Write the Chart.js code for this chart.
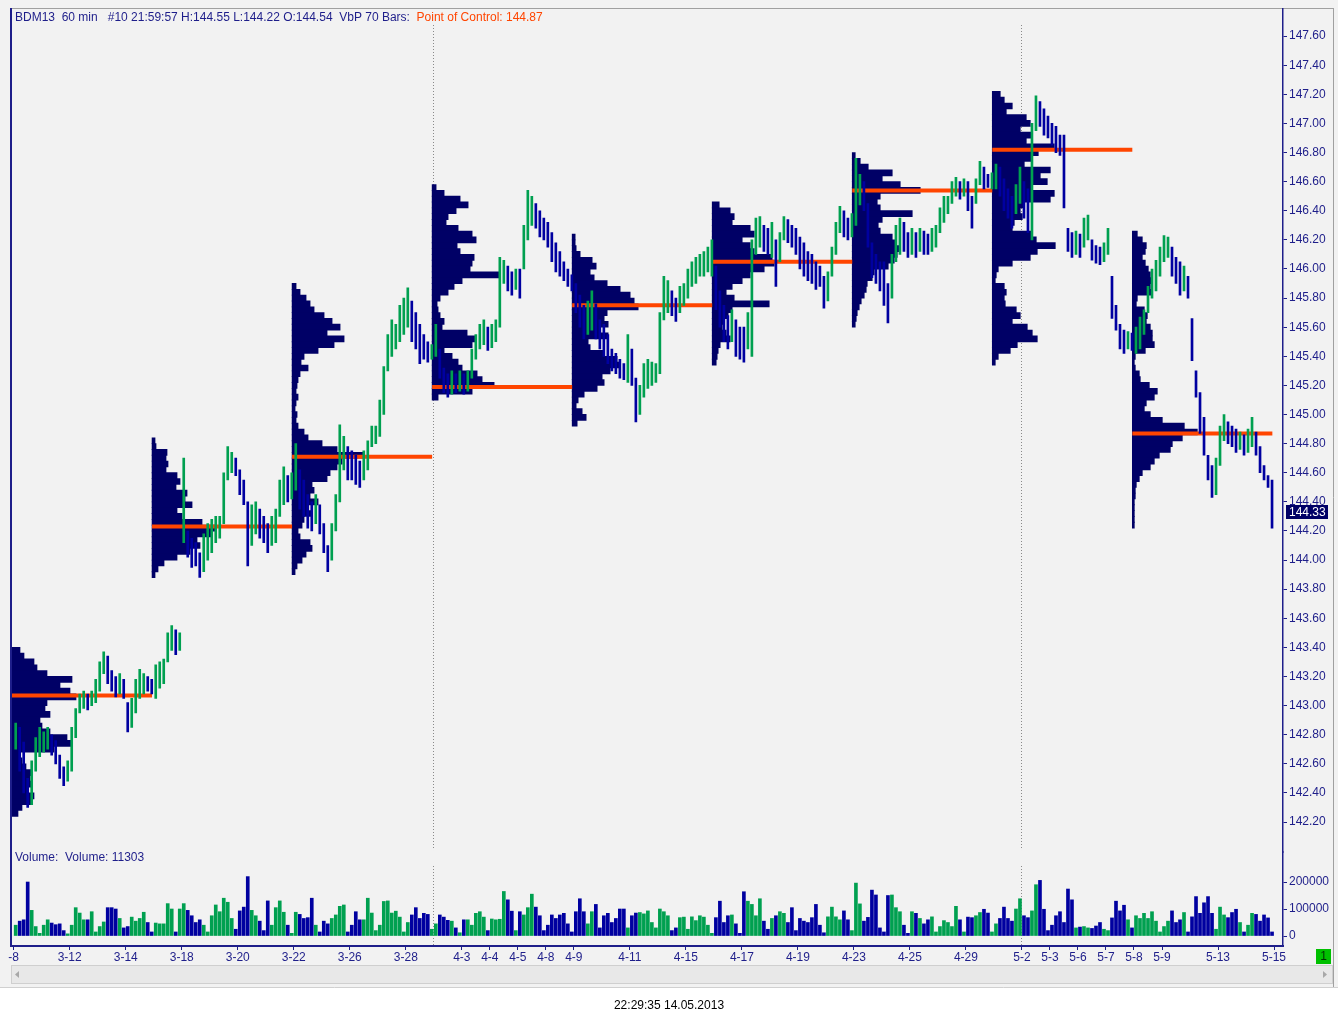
<!DOCTYPE html>
<html><head><meta charset="utf-8">
<script src="https://cdn.jsdelivr.net/npm/chart.js@4.4.1/dist/chart.umd.min.js"></script>
<style>html,body{margin:0;padding:0;background:#fff;overflow:hidden}canvas{display:block}</style>
</head><body>
<canvas id="c" width="1338" height="1023"></canvas>
<script>
// ---------- DATA ----------
const BARS_PER_DAY = 7; // each bar = 2 hourly bars
const DAY_TICKS  = [0,2,4,6,8,10,12,14,16,17,18,19,20,22,24,26,28,30,32,34,36,37,38,39,40,41,43,45];
const DAY_LABELS = ['-8','3-12','3-14','3-18','3-20','3-22','3-26','3-28','4-3','4-4','4-5','4-8','4-9','4-11','4-15','4-17','4-19','4-23','4-25','4-29','5-2','5-3','5-6','5-7','5-8','5-9','5-13','5-15'];
const MONTH_BREAKS = [15, 36];
const PRICE_TICKS = [142.2,142.4,142.6,142.8,143.0,143.2,143.4,143.6,143.8,144.0,144.2,144.4,144.6,144.8,145.0,145.2,145.4,145.6,145.8,146.0,146.2,146.4,146.6,146.8,147.0,147.2,147.4,147.6];
const VOL_TICKS = [0,100000,200000];
const LAST_PRICE = 144.33;

const LOWS = [
142.70,142.55,142.40,142.30,142.32,142.55,142.65,
142.68,142.70,142.66,142.60,142.50,142.45,142.48,
142.55,142.78,142.95,142.98,142.97,143.00,143.02,
143.10,143.22,143.15,143.10,143.06,143.08,143.05,
142.82,142.85,142.95,143.05,143.08,143.10,143.08,
143.05,143.12,143.15,143.30,143.38,143.35,143.38,
144.12,144.02,143.95,143.96,143.88,143.92,144.00,
144.05,144.12,144.15,144.25,144.55,144.60,144.58,
144.45,144.38,143.96,144.10,144.18,144.15,144.12,
144.05,144.10,144.12,144.30,144.38,144.40,144.42,
144.48,144.35,144.30,144.22,144.20,144.25,144.18,
144.05,143.92,144.00,144.20,144.40,144.62,144.55,
144.55,144.52,144.50,144.55,144.62,144.78,144.80,
144.85,145.00,145.30,145.40,145.45,145.50,145.55,
145.60,145.50,145.45,145.35,145.38,145.36,145.38,
145.40,145.25,145.15,145.12,145.14,145.15,145.16,
145.14,145.16,145.25,145.38,145.45,145.48,145.44,
145.46,145.50,145.60,145.90,145.85,145.82,145.86,
145.80,146.00,146.20,146.30,146.28,146.22,146.20,
146.15,146.05,145.98,145.95,145.92,145.88,145.85,
145.70,145.60,145.52,145.55,145.58,145.52,145.45,
145.40,145.35,145.30,145.28,145.25,145.24,145.22,
145.20,144.95,145.00,145.12,145.18,145.20,145.22,
145.28,145.65,145.70,145.68,145.64,145.70,145.75,
145.80,145.88,145.90,145.95,145.95,145.98,145.95,
145.72,145.60,145.50,145.45,145.50,145.40,145.38,
145.36,145.45,145.40,146.10,146.15,146.12,146.10,
146.08,145.88,146.05,146.20,146.18,146.15,146.10,
146.00,145.95,145.92,145.90,145.86,145.88,145.73,
145.78,145.95,146.10,146.25,146.22,146.20,146.22,
146.30,146.44,146.40,146.15,145.94,145.90,145.85,
145.75,145.63,145.80,146.05,146.10,146.12,146.08,
146.10,146.08,146.12,146.10,146.10,146.12,146.15,
146.25,146.32,146.38,146.45,146.50,146.48,146.50,
146.40,146.28,146.45,146.58,146.55,146.56,146.55,
146.55,146.50,146.40,146.35,146.28,146.38,146.45,
146.35,146.25,146.20,146.95,146.98,146.92,146.90,
146.85,146.80,146.78,146.42,146.12,146.08,146.10,
146.08,146.15,146.20,146.06,146.04,146.03,146.05,
146.10,145.66,145.58,145.45,145.42,145.45,145.44,
145.42,145.45,145.55,145.70,145.80,145.85,145.95,
146.05,146.08,145.95,145.90,145.82,145.85,145.80,
145.37,145.12,144.87,144.72,144.55,144.43,144.45,
144.65,144.82,144.80,144.78,144.74,144.76,144.72,
144.74,144.78,144.72,144.60,144.55,144.50,144.22];

const HIGHS = [
142.88,142.85,142.75,142.50,142.62,142.78,142.85,
142.82,142.85,142.80,142.76,142.66,142.58,142.62,
142.85,142.98,143.08,143.10,143.08,143.10,143.18,
143.30,143.37,143.34,143.24,143.20,143.22,143.18,
143.02,143.05,143.18,143.25,143.22,143.20,143.18,
143.28,143.30,143.32,143.50,143.55,143.52,143.50,
144.70,144.20,144.15,144.12,144.05,144.18,144.25,
144.28,144.30,144.30,144.60,144.78,144.74,144.70,
144.62,144.55,144.40,144.38,144.40,144.35,144.30,
144.25,144.30,144.35,144.55,144.64,144.58,144.60,
144.80,144.62,144.55,144.45,144.40,144.45,144.38,
144.25,144.10,144.25,144.45,144.93,144.85,144.78,
144.75,144.72,144.68,144.75,144.82,144.92,144.92,
145.10,145.33,145.55,145.65,145.62,145.75,145.80,
145.87,145.78,145.70,145.62,145.55,145.50,145.48,
145.62,145.45,145.32,145.28,145.30,145.28,145.30,
145.28,145.30,145.45,145.55,145.62,145.65,145.60,
145.62,145.65,146.08,146.06,146.02,145.98,146.00,
146.00,146.30,146.54,146.50,146.45,146.40,146.35,
146.32,146.25,146.18,146.12,146.05,146.00,145.96,
145.90,145.82,145.75,145.78,145.85,145.76,145.65,
145.62,145.55,145.45,145.42,145.38,145.35,145.55,
145.45,145.25,145.20,145.35,145.38,145.36,145.35,
145.70,145.95,145.92,145.85,145.80,145.88,145.90,
146.00,146.05,146.08,146.10,146.12,146.15,146.20,
146.02,145.85,145.75,145.68,145.72,145.65,145.60,
145.60,145.70,146.20,146.35,146.36,146.30,146.28,
146.32,146.20,146.25,146.36,146.34,146.30,146.28,
146.22,146.18,146.12,146.10,146.05,146.02,145.95,
145.98,146.15,146.32,146.43,146.40,146.35,146.38,
146.76,146.65,146.60,146.45,146.18,146.10,146.05,
146.05,145.90,146.10,146.30,146.35,146.32,146.25,
146.28,146.25,146.28,146.26,146.24,146.28,146.30,
146.42,146.50,146.50,146.60,146.63,146.60,146.62,
146.60,146.50,146.62,146.74,146.70,146.65,146.66,
146.72,146.70,146.62,146.55,146.50,146.58,146.70,
146.60,146.55,147.00,147.19,147.15,147.10,147.05,
147.00,146.98,146.92,146.92,146.28,146.25,146.26,
146.24,146.35,146.37,146.20,146.16,146.15,146.18,
146.28,145.95,145.75,145.62,145.58,145.57,145.56,
145.60,145.67,145.72,145.88,146.00,146.06,146.15,
146.23,146.22,146.15,146.08,146.05,146.02,145.95,
145.66,145.30,145.15,144.98,144.72,144.65,144.70,
144.92,145.00,144.95,144.92,144.90,144.88,144.86,
144.90,144.98,144.88,144.78,144.65,144.58,144.55];

// volume per bar, thousands of contracts
const VOLUME_K = [
40,55,60,200,95,35,10,  40,60,48,42,45,20,8,  40,105,85,60,60,90,15,  35,52,105,105,100,65,30,
35,70,55,65,88,50,15,  48,45,45,120,100,15,100,  120,95,75,50,60,40,15,  75,115,90,140,125,65,25,
93,107,220,95,75,55,20,  130,40,105,130,88,40,10,  88,80,65,68,140,40,15,  55,45,65,78,110,115,15,
40,90,60,60,140,85,20,  40,128,130,85,92,70,15,  50,78,105,65,84,80,25,  45,78,70,58,55,30,12,
60,60,40,84,90,70,20,  63,60,62,165,134,92,20,  90,78,105,155,107,75,20,  40,78,65,78,84,45,15,
90,138,90,45,90,117,30,  75,84,50,65,100,100,30,  75,85,87,82,93,50,30,  100,90,75,20,30,68,70,
25,71,57,75,70,40,10,  68,129,50,75,78,45,10,  164,129,117,75,138,55,25,  65,75,90,84,50,105,20,
65,55,50,68,117,40,12,  71,107,71,60,93,60,20,  196,119,55,69,170,152,30,  15,150,152,105,90,40,10,
90,84,65,45,60,71,15,  35,57,50,35,110,60,15,  70,68,75,87,99,85,15,  45,65,107,65,55,100,138,
75,68,93,190,206,99,20,  40,75,90,50,174,134,30,  33,35,30,28,37,50,25,  20,67,129,93,114,60,30,
75,65,84,65,90,55,15,  35,55,93,50,60,87,15,  71,146,84,123,146,84,25,  107,78,68,87,99,50,15,
40,84,80,55,78,67,15];

// Volume-by-price profiles, one per 70-bar block (5 sessions)
const PROFILE_STARTS = [0,5,10,15,20,25,30,35,40];
const PROFILE_TOPS   = [143.38,144.82,145.88,146.56,146.22,146.44,146.78,147.20,146.24];
const PROFILE_STEP   = 0.04;
const POC            = [143.07,144.23,144.71,145.19,145.75,146.05,146.54,146.82,144.87];
const PROFILE_VOLS = [
 [8,12,22,25,35,60,48,58,64,35,33,38,28,30,38,55,60,42,8,10,14,20,18,20,16,22,20,10,6],
 [3,4,15,14,16,14,25,28,24,35,33,40,25,30,50,64,60,45,48,38,25,12,6,3],
 [4,8,14,18,22,32,40,48,35,52,42,26,12,9,16,8,6,5,4,6,4,3,5,4,6,12,16,30,45,72,50,45,38,35,20,22,18,26,15,20,12,10,6,8,18,20,14,10,5,3],
 [4,12,28,36,24,16,14,26,40,44,25,28,42,40,38,68,30,22,16,8,5,6,8,12,10,35,44,40,12,20,26,30,45,50,62,40,6],
 [3,3,4,8,20,24,18,22,35,48,58,62,66,35,32,36,28,36,16,18,32,45,48,38,30,32,25,12,6,4,10,14,5],
 [7,18,22,20,38,42,30,38,42,60,62,52,38,30,20,14,22,57,20,16,12,10,14,18,8,6,5,4],
 [3,8,16,40,30,48,68,28,25,28,60,30,26,28,40,44,48,45,42,36,22,20,15,14,12,9,7,5,4,3],
 [8,12,20,14,34,38,28,40,34,62,46,40,32,58,48,55,40,62,58,32,28,30,22,20,40,44,63,45,38,20,6,4,3,12,14,12,13,24,28,20,35,40,45,25,18,6,3],
 [5,10,14,13,10,13,16,18,20,18,19,5,4,12,15,14,18,20,20,22,13,3,2,3,7,8,17,25,22,14,12,18,30,52,65,50,40,38,27,22,18,10,7,4,3,3,2,2,2,2,2]
];

// ---------- STYLE ----------
const NAVY = '#1e1e8a', PROFILE_C = '#000066', UP_C = '#00a050', DN_C = '#0000a0', POC_C = '#ff4500';
const PROFILE_UNIT = 1/28;      // days of width per unit of relative volume
const BLOCK_OFFSET = -0.06;     // profile block starts just before first bar

// ---------- BUILD ----------
const barX = i => i / BARS_PER_DAY + 0.5 / BARS_PER_DAY;
const mids = LOWS.map((l, i) => (l + HIGHS[i]) / 2);
const isUp = mids.map((m, i) => i === 0 ? true : m >= mids[i - 1]);
const barColors = isUp.map(u => u ? UP_C : DN_C);

const priceData = LOWS.map((l, i) => ({x: barX(i), y: [l, HIGHS[i]]}));
const volData = VOLUME_K.map((v, i) => ({x: barX(i), y: v * 1000}));

const profRows = [];
PROFILE_VOLS.forEach((vols, k) => {
  const x0 = PROFILE_STARTS[k] + BLOCK_OFFSET;
  vols.forEach((v, r) => profRows.push({y: +(PROFILE_TOPS[k] - r * PROFILE_STEP).toFixed(2), x: [x0, x0 + v * PROFILE_UNIT]}));
});
const pocData = [];
POC.forEach((p, k) => {
  const x0 = PROFILE_STARTS[k] + BLOCK_OFFSET;
  pocData.push({x: x0, y: p}, {x: x0 + 5, y: p}, {x: x0 + 5, y: null});
});

Chart.defaults.font.family = '"Liberation Sans", Arial, sans-serif';
Chart.defaults.font.size = 12;

const deco = {
  id: 'deco',
  beforeDraw(chart) {
    const ctx = chart.ctx;
    ctx.save();
    ctx.fillStyle = '#ffffff'; ctx.fillRect(0, 0, 1338, 1023);
    ctx.fillStyle = '#f2f2f2'; ctx.fillRect(0, 0, 1338, 988);
    ctx.strokeStyle = '#a0a0a0'; ctx.lineWidth = 1;
    ctx.beginPath(); ctx.moveTo(10, 8.5); ctx.lineTo(1334, 8.5); ctx.stroke();
    ctx.beginPath(); ctx.moveTo(1333.5, 8); ctx.lineTo(1333.5, 987); ctx.stroke();
    ctx.strokeStyle = '#d0d0d0';
    ctx.beginPath(); ctx.moveTo(0, 987.5); ctx.lineTo(1338, 987.5); ctx.stroke();
    ctx.restore();
  },
  beforeDatasetsDraw(chart) {
    const ctx = chart.ctx, xs = chart.scales.x, yp = chart.scales.y, yv = chart.scales.yv;
    ctx.save();
    ctx.strokeStyle = '#8a8a8a'; ctx.lineWidth = 1; ctx.setLineDash([1, 2]);
    MONTH_BREAKS.forEach(d => {
      const x = Math.round(xs.getPixelForValue(d)) - 0.5;
      ctx.beginPath(); ctx.moveTo(x, 25); ctx.lineTo(x, yp.bottom - 2); ctx.stroke();
      ctx.beginPath(); ctx.moveTo(x, yv.top + 14); ctx.lineTo(x, yv.bottom); ctx.stroke();
    });
    ctx.restore();
  },
  afterDraw(chart) {
    const ctx = chart.ctx, ca = chart.chartArea, yp = chart.scales.y;
    ctx.save();
    // left border
    ctx.strokeStyle = NAVY; ctx.lineWidth = 2;
    ctx.beginPath(); ctx.moveTo(11, 8); ctx.lineTo(11, ca.bottom + 1); ctx.stroke();
    // header
    ctx.font = '12px "Liberation Sans", Arial, sans-serif';
    ctx.textBaseline = 'middle'; ctx.textAlign = 'left';
    const h1 = 'BDM13  60 min   #10 21:59:57 H:144.55 L:144.22 O:144.54  VbP 70 Bars:  ';
    ctx.fillStyle = NAVY; ctx.fillText(h1, 15, 18);
    const w1 = ctx.measureText(h1).width;
    ctx.fillStyle = POC_C; ctx.fillText('Point of Control: 144.87', 15 + w1, 18);
    // volume label
    ctx.fillStyle = NAVY; ctx.fillText('Volume:  Volume: 11303', 15, 858);
    // last price box
    const yl = Math.round(yp.getPixelForValue(LAST_PRICE));
    ctx.fillStyle = '#000066'; ctx.fillRect(ca.right + 3, yl - 7, 42, 14);
    ctx.fillStyle = '#ffffff'; ctx.fillText(LAST_PRICE.toFixed(2), ca.right + 6, yl + 0.5);
    // green box
    ctx.fillStyle = '#00c000'; ctx.fillRect(1316, 949, 15, 15);
    ctx.fillStyle = '#003300'; ctx.textAlign = 'center'; ctx.fillText('1', 1323.5, 957);
    // scroll bar
    ctx.fillStyle = '#e8e8e8'; ctx.fillRect(11, 966, 1322, 17);
    ctx.strokeStyle = '#cfcfcf'; ctx.lineWidth = 1;
    ctx.strokeRect(11.5, 965.5, 1321, 18);
    ctx.fillStyle = '#a8a8a8';
    ctx.beginPath(); ctx.moveTo(15, 974.5); ctx.lineTo(19, 971); ctx.lineTo(19, 978); ctx.closePath(); ctx.fill();
    ctx.beginPath(); ctx.moveTo(1327, 974.5); ctx.lineTo(1323, 971); ctx.lineTo(1323, 978); ctx.closePath(); ctx.fill();
    // timestamp
    ctx.fillStyle = '#000000'; ctx.textAlign = 'center';
    ctx.fillText('22:29:35 14.05.2013', 669, 1006);
    ctx.restore();
  }
};

const axisCommon = {
  offset: false,
  beginAtZero: false,
  grid: {drawOnChartArea: false, drawTicks: true, tickLength: 4, color: NAVY, offset: false},
  border: {display: true, color: NAVY, width: 1.5},
};

new Chart(document.getElementById('c'), {
  type: 'bar',
  data: {
    datasets: [
      {type: 'line', data: pocData, xAxisID: 'x', yAxisID: 'y', borderColor: POC_C, borderWidth: 4,
       pointRadius: 0, spanGaps: false, order: 2, borderCapStyle: 'butt'},
      {data: priceData, xAxisID: 'x', yAxisID: 'y', backgroundColor: barColors, barThickness: 2,
       grouped: false, borderWidth: 0, order: 1},
      {data: profRows, indexAxis: 'y', xAxisID: 'x', yAxisID: 'y', backgroundColor: PROFILE_C,
       barThickness: 6, grouped: false, borderWidth: 0, order: 3},
      {data: volData, xAxisID: 'x', yAxisID: 'yv', backgroundColor: barColors, barThickness: 3,
       grouped: false, borderWidth: 0, order: 2}
    ]
  },
  options: {
    responsive: false, animation: false, devicePixelRatio: 1,
    layout: {padding: {left: 11, right: 5, top: 9, bottom: 57}},
    plugins: {legend: {display: false}, tooltip: {enabled: false}},
    events: [],
    scales: {
      x: Object.assign({}, axisCommon, {
        type: 'linear', position: 'bottom', min: -0.096, max: 45.32,
        border: {display: true, color: NAVY, width: 2},
        ticks: {autoSkip: false, maxRotation: 0, color: NAVY, padding: 0,
                callback: (v, i) => DAY_LABELS[i]},
        afterBuildTicks: s => { s.ticks = DAY_TICKS.map(v => ({value: v})); },
        afterFit: s => { s.height = 20; }
      }),
      y: Object.assign({}, axisCommon, {
        type: 'linear', position: 'right', stack: 'main', stackWeight: 843,
        min: 141.994, max: 147.785,
        ticks: {autoSkip: false, color: NAVY, padding: 2, callback: v => Number(v).toFixed(2)},
        afterBuildTicks: s => { s.ticks = PRICE_TICKS.map(v => ({value: v})); },
        afterFit: s => { s.width = 50; }
      }),
      yv: Object.assign({}, axisCommon, {
        type: 'linear', position: 'right', stack: 'main', stackWeight: 94,
        min: -37037, max: 311111,
        ticks: {autoSkip: false, color: NAVY, padding: 2, callback: v => String(v)},
        afterBuildTicks: s => { s.ticks = VOL_TICKS.map(v => ({value: v})); },
        afterFit: s => { s.width = 50; }
      })
    }
  },
  plugins: [deco]
});
</script>
</body></html>
